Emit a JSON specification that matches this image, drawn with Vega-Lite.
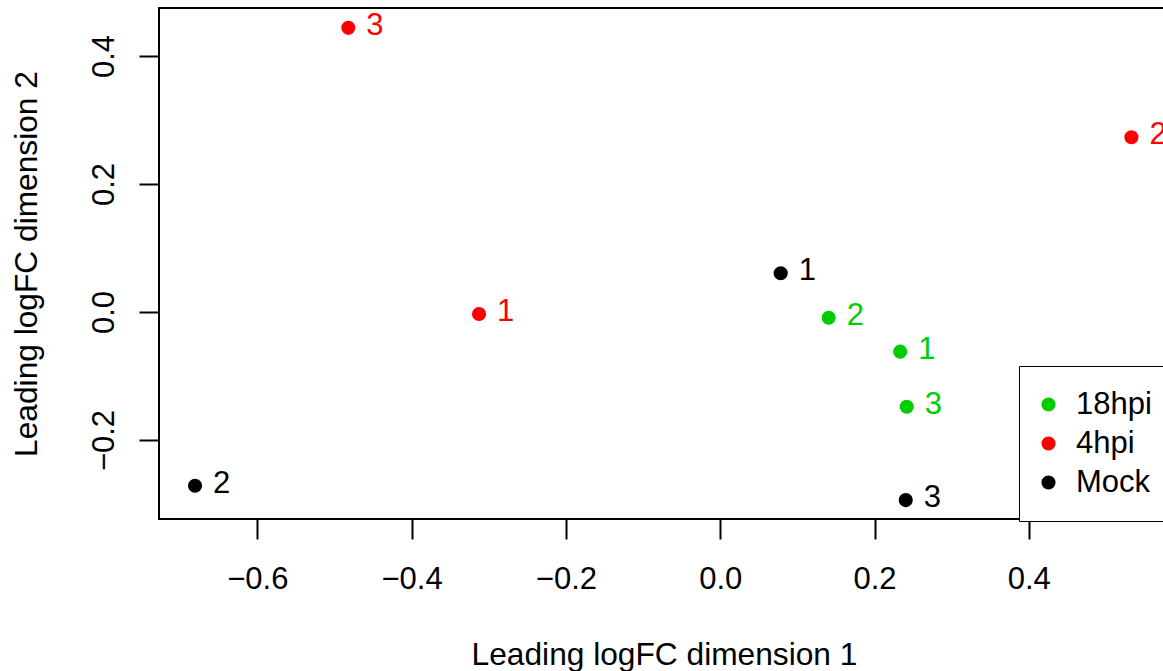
{
  "$schema": "https://vega.github.io/schema/vega-lite/v6.json",
  "width": 1010,
  "height": 511,
  "autosize": {"type": "none"},
  "padding": {"left": 159, "top": 8, "right": -6, "bottom": 152},
  "background": "white",
  "config": {
    "font": "Liberation Sans",
    "view": {"stroke": "black", "strokeWidth": 2},
    "axis": {"grid": false, "domain": false}
  },
  "data": {
    "values": [
      {"group": "4hpi", "rep": "3", "dim1": -0.482, "dim2": 0.444},
      {"group": "4hpi", "rep": "2", "dim1": 0.533, "dim2": 0.273},
      {"group": "4hpi", "rep": "1", "dim1": -0.3126, "dim2": -0.0031},
      {"group": "Mock", "rep": "1", "dim1": 0.0784, "dim2": 0.0605},
      {"group": "Mock", "rep": "2", "dim1": -0.6807, "dim2": -0.2714},
      {"group": "Mock", "rep": "3", "dim1": 0.2405, "dim2": -0.2938},
      {"group": "18hpi", "rep": "1", "dim1": 0.2333, "dim2": -0.062},
      {"group": "18hpi", "rep": "2", "dim1": 0.1406, "dim2": -0.0089},
      {"group": "18hpi", "rep": "3", "dim1": 0.2418, "dim2": -0.148}
    ]
  },
  "encoding": {
    "x": {
      "field": "dim1", "type": "quantitative",
      "scale": {"domain": [-0.7274, 0.5817], "nice": false, "zero": false},
      "axis": {
        "values": [-0.6, -0.4, -0.2, 0, 0.2, 0.4],
        "format": ".1f",
        "tickSize": 20, "tickWidth": 2, "tickColor": "black",
        "labelFontSize": 31, "labelColor": "black",
        "labelBaseline": "alphabetic", "labelPadding": 49,
        "title": "Leading logFC dimension 1",
        "titleFontSize": 31.7, "titleFontWeight": "normal", "titleColor": "black",
        "titleBaseline": "alphabetic", "titleY": 145
      }
    },
    "y": {
      "field": "dim2", "type": "quantitative",
      "scale": {"domain": [-0.3234, 0.475], "nice": false, "zero": false},
      "axis": {
        "values": [-0.2, 0, 0.2, 0.4],
        "format": ".1f",
        "tickSize": 20, "tickWidth": 2, "tickColor": "black",
        "labelFontSize": 31, "labelColor": "black",
        "labelAngle": -90, "labelAlign": "center", "labelBaseline": "alphabetic",
        "labelPadding": 26,
        "title": "Leading logFC dimension 2",
        "titleFontSize": 31.7, "titleFontWeight": "normal", "titleColor": "black",
        "titleAngle": -90, "titleBaseline": "alphabetic", "titleAlign": "center",
        "titleX": -123, "titleY": 255.5
      }
    },
    "color": {
      "field": "group", "type": "nominal",
      "scale": {"domain": ["18hpi", "4hpi", "Mock"], "range": ["#00CD00", "#FF0000", "#000000"]},
      "legend": {
        "title": null,
        "orient": "none", "legendX": 860, "legendY": 358,
        "strokeColor": "black", "fillColor": "white",
        "padding": 23,
        "symbolType": "circle", "symbolSize": 200, "symbolStrokeWidth": 0,
        "symbolOffset": -9,
        "labelFontSize": 31, "labelColor": "black", "labelOffset": 12,
        "rowPadding": 7
      }
    }
  },
  "layer": [
    {"mark": {"type": "point", "shape": "circle", "filled": true, "size": 200, "opacity": 1}},
    {
      "mark": {"type": "text", "align": "left", "baseline": "alphabetic", "dx": 18, "dy": 7, "fontSize": 31},
      "encoding": {"text": {"field": "rep"}}
    }
  ]
}
